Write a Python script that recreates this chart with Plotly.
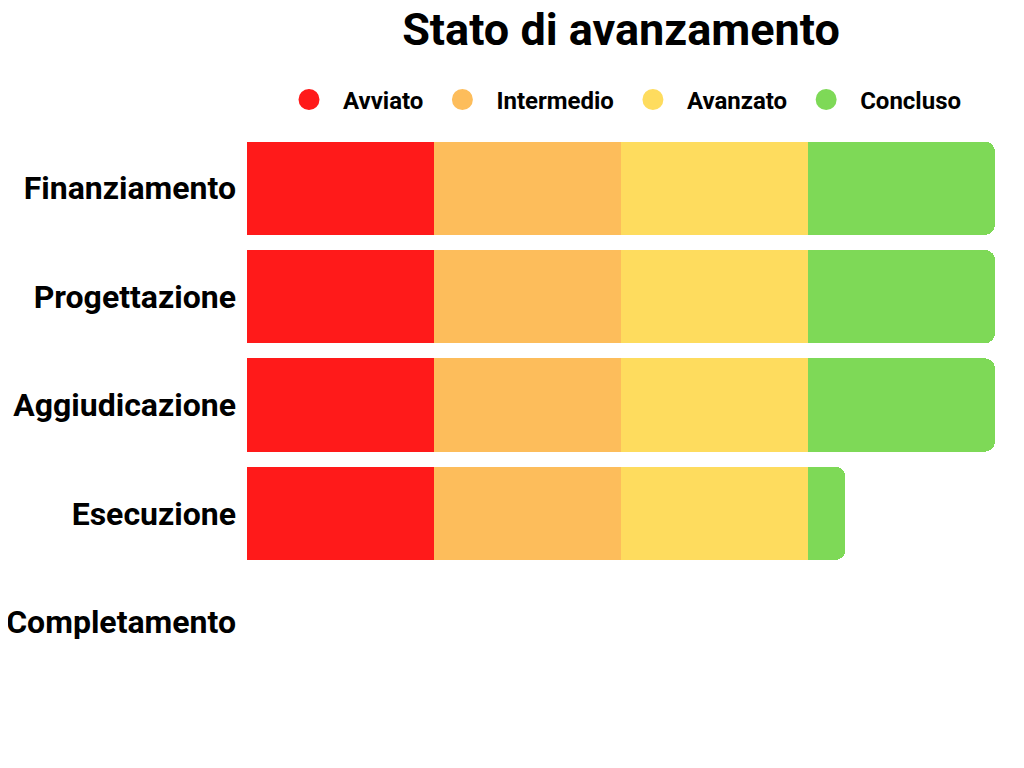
import plotly.graph_objects as go

# stages (rows, top to bottom)
categories = ['Finanziamento', 'Progettazione', 'Aggiudicazione', 'Esecuzione', 'Completamento']

# progress share per status (each row sums to its overall progress)
avviato = [25, 25, 25, 25, 0]
intermedio = [25, 25, 25, 25, 0]
avanzato = [25, 25, 25, 25, 0]
concluso = [25, 25, 25, 5, 0]

series_names = ['Avviato', 'Intermedio', 'Avanzato', 'Concluso']
colors = ['#FF1A1A', '#FDBD5B', '#FEDC5E', '#7ED957']

FONT = 'Roboto'

fig = go.Figure()

for name, values, color in zip(series_names, [avviato, intermedio, avanzato, concluso], colors):
    fig.add_trace(
        go.Bar(
            y=categories,
            x=values,
            name=name,
            orientation='h',
            marker=dict(color=color, line=dict(width=0)),
            showlegend=False,
            hoverinfo='x+y+name'
        )
    )
    # circle markers for the legend (outline in same colour makes the dot bigger)
    fig.add_trace(
        go.Scatter(
            x=[None],
            y=[None],
            mode='markers',
            name=name,
            marker=dict(symbol='circle', size=24, color=color, line=dict(color=color, width=5)),
            showlegend=True
        )
    )

# page body adds an 8px offset, so margins are shifted to compensate
fig.update_layout(
    barmode='stack',
    barcornerradius=10,
    bargap=0.14,
    width=1024,
    height=768,
    paper_bgcolor='white',
    plot_bgcolor='white',
    font=dict(family=FONT, color='black'),
    margin=dict(l=239, r=37, t=126, b=100),
    title=dict(
        text='Stato di avanzamento',
        x=0.5,
        xref='paper',
        xanchor='center',
        y=1 - 21 / 768,
        yanchor='middle',
        font=dict(family=FONT, size=45, color='black', weight='bold')
    ),
    legend=dict(
        orientation='h',
        traceorder='normal',
        x=0.5,
        xanchor='center',
        y=1.063,
        yanchor='middle',
        font=dict(family=FONT, size=24, color='black', weight='bold'),
        itemsizing='trace',
        itemwidth=58,
        bgcolor='rgba(0,0,0,0)'
    ),
    xaxis=dict(
        visible=False,
        range=[0, 100],
        fixedrange=True
    ),
    yaxis=dict(
        autorange='reversed',
        automargin=False,
        showgrid=False,
        zeroline=False,
        showline=False,
        ticks='',
        ticklabelstandoff=10,
        tickfont=dict(family=FONT, size=32, color='black', weight='bold')
    )
)

fig.write_html("out.html")
